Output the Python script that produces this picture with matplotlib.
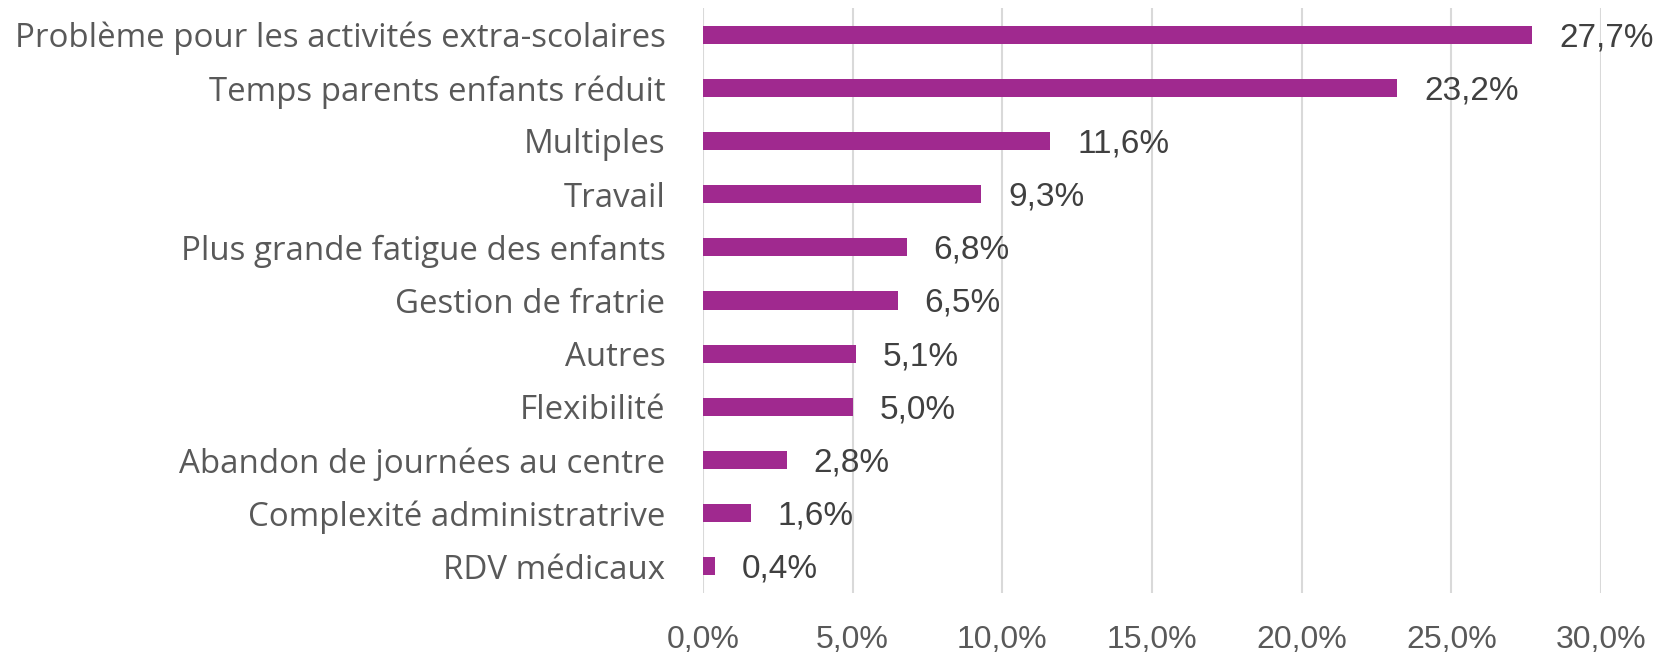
import matplotlib
matplotlib.use("Agg")
import matplotlib.pyplot as plt
from matplotlib.ticker import FuncFormatter

categories = [
    "Problème pour les activités extra-scolaires",
    "Temps parents enfants réduit",
    "Multiples",
    "Travail",
    "Plus grande fatigue des enfants",
    "Gestion de fratrie",
    "Autres",
    "Flexibilité",
    "Abandon de journées au centre",
    "Complexité administratrive",
    "RDV médicaux",
]
values = [27.7, 23.2, 11.6, 9.3, 6.8, 6.5, 5.1, 5.0, 2.8, 1.6, 0.4]
x_ticks = [0, 5, 10, 15, 20, 25, 30]

BAR = "#A0298F"
GRID = "#D9D9D9"
LABEL = "#595959"
VAL = "#404040"


def pct(v):
    return f"{v:.1f}%".replace(".", ",")


fig = plt.figure(figsize=(16.56, 6.57), dpi=100)
ax = fig.add_axes([703 / 1656, 1 - 593 / 657, (1601 - 703) / 1656, (593 - 8) / 657])

y = list(range(len(categories)))
ax.barh(y, values, height=0.34, color=BAR, zorder=3)
ax.set_ylim(len(categories) - 0.5, -0.5)
ax.set_xlim(0, 30)
ax.set_xticks(x_ticks)
ax.xaxis.set_major_formatter(FuncFormatter(lambda v, p: pct(v)))
ax.grid(axis="x", color=GRID, linewidth=1.5, zorder=0)
for s in ax.spines.values():
    s.set_visible(False)
ax.tick_params(axis="both", length=0)
ax.tick_params(axis="x", pad=23, labelsize=23, labelcolor=LABEL)
for t in ax.get_xticklabels():
    t.set_fontfamily("Liberation Sans")
ax.set_yticks(y)
ax.set_yticklabels(categories, fontsize=23.8, color=LABEL, fontfamily="Open Sans")
ax.tick_params(axis="y", pad=27)

for yi, v in zip(y, values):
    ax.annotate(pct(v), xy=(v, yi), xytext=(27, -3),
                textcoords="offset pixels", va="center", ha="left",
                fontsize=24, color=VAL, fontfamily="Liberation Sans")

fig.savefig("out.png", dpi=100)
